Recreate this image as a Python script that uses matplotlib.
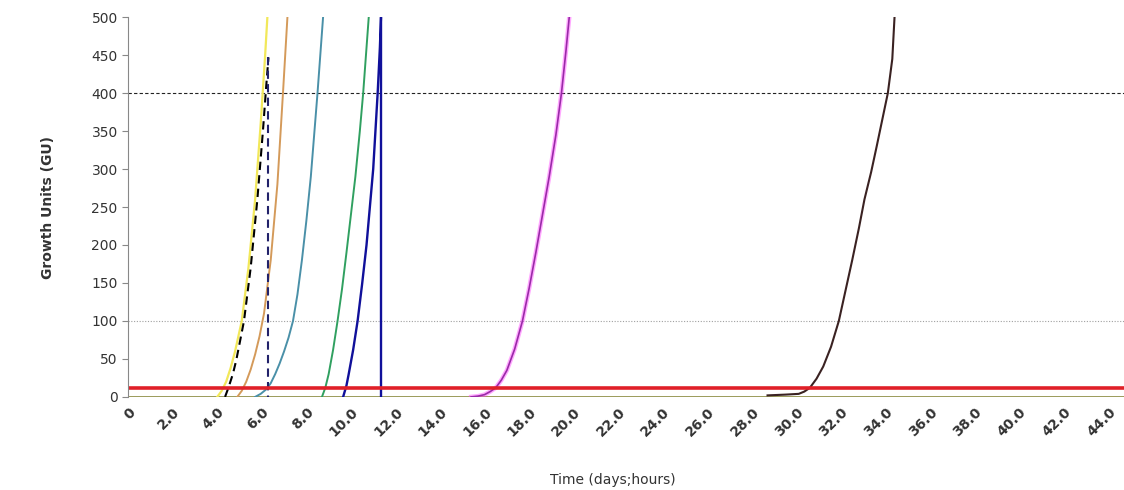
import matplotlib.pyplot as plt

# growth curves: (time, growth units)
yellow_t = [4.0, 4.2, 4.4, 4.6, 4.8, 5.1, 5.4, 5.7, 5.95, 6.15, 6.25]
yellow_gu = [0, 8, 20, 38, 60, 100, 170, 260, 360, 450, 500]

black_t = [4.35, 4.5, 4.7, 4.85, 5.0, 5.2, 5.5, 5.8, 6.05, 6.2, 6.3]
black_gu = [0, 12, 30, 48, 70, 100, 170, 260, 350, 410, 447]

drop_t = [6.3, 6.3]
drop_gu = [447, 0]

orange_t = [4.9, 5.1, 5.3, 5.5, 5.7, 5.9, 6.1, 6.4, 6.7, 6.95, 7.15]
orange_gu = [0, 8, 20, 36, 56, 80, 110, 180, 280, 400, 500]

teal_t = [5.7, 5.95, 6.2, 6.4, 6.6, 6.8, 7.0, 7.2, 7.4, 7.6, 7.8, 8.0, 8.2, 8.35, 8.5, 8.65, 8.75]
teal_gu = [0, 4, 10, 18, 30, 44, 60, 78, 100, 135, 180, 232, 290, 345, 400, 460, 500]

green_t = [8.7, 8.85, 9.0, 9.2, 9.4, 9.6, 9.8, 10.0, 10.2, 10.4, 10.55, 10.7, 10.8]
green_gu = [0, 12, 30, 62, 100, 142, 190, 240, 290, 350, 400, 460, 500]

navy_t = [9.65, 9.8, 9.9, 10.1, 10.3, 10.5, 10.7, 10.85, 11.0, 11.1, 11.2, 11.3, 11.35, 11.35]
navy_gu = [0, 15, 30, 62, 100, 148, 200, 250, 300, 350, 400, 460, 500, 0]

magenta_t = [15.4, 15.7, 16.0, 16.25, 16.5, 16.75, 17.0, 17.35, 17.7, 18.0, 18.3, 18.6, 18.9, 19.2, 19.45, 19.65, 19.8]
magenta_gu = [0, 1, 3, 7, 12, 22, 35, 63, 100, 143, 190, 240, 290, 345, 400, 455, 500]

brown_t = [28.7, 29.5, 30.1, 30.35, 30.6, 30.9, 31.2, 31.55, 31.9, 32.2, 32.5, 32.8, 33.05, 33.35, 33.6, 33.85, 34.1, 34.3, 34.4]
brown_gu = [2, 3, 4, 7, 12, 24, 40, 66, 100, 140, 180, 222, 260, 296, 330, 365, 400, 445, 500]

threshold = 12
upper_ref = 400
lower_ref = 100

x_ticks = list(range(0, 45, 2))
x_labels = ["0"] + [f"{t:.1f}" for t in x_ticks[1:]]
y_ticks = list(range(0, 501, 50))

fig = plt.figure(figsize=(11.24, 4.9), dpi=100)
ax = fig.add_axes([0.114, 0.19, 0.886, 0.775])

ax.axhline(lower_ref, color="#a0a0a0", lw=0.8, ls=(0, (1, 1.5)))
ax.axhline(upper_ref, color="#222222", lw=0.8, ls=(0, (3, 2)))
ax.axhline(0, color="#8a8a40", lw=1.2)

ax.plot(yellow_t, yellow_gu, color="#f2e85a", lw=1.6)
ax.plot(orange_t, orange_gu, color="#d49a5a", lw=1.4)
ax.plot(teal_t, teal_gu, color="#4a90a8", lw=1.4)
ax.plot(black_t, black_gu, color="black", lw=1.5, ls=(0, (4, 2.5)))
ax.plot(drop_t, drop_gu, color="#22226a", lw=1.5, ls=(0, (4, 2.5)))
ax.plot(green_t, green_gu, color="#30a060", lw=1.4)
ax.plot(navy_t, navy_gu, color="#10109a", lw=1.7)
ax.plot(magenta_t, magenta_gu, color="#ff40ff", lw=3.2, alpha=0.45)
ax.plot(magenta_t, magenta_gu, color="#9a2aa8", lw=1.2)
ax.plot(brown_t, brown_gu, color="#3a2222", lw=1.5)

ax.axhline(threshold, color="#e02028", lw=2.6)

ax.set_xlim(0, 44.7)
ax.set_ylim(0, 500)
ax.set_xticks(x_ticks)
ax.set_xticklabels(x_labels, rotation=45, ha="right", rotation_mode="anchor",
                   fontsize=10, fontweight="bold", color="#333333")
ax.set_yticks(y_ticks)
ax.tick_params(axis="y", labelsize=10, colors="#333333", length=4, color="#888888")
ax.tick_params(axis="x", length=0, pad=6)

for side in ["top", "right", "bottom"]:
    ax.spines[side].set_visible(False)
ax.spines["left"].set_color("#888888")

ax.set_ylabel("Growth Units (GU)", fontsize=10, fontweight="bold", color="#333333", labelpad=26)
fig.text(0.545, 0.012, "Time (days;hours)", fontsize=10, color="#333333", ha="center")

fig.savefig("out.png", dpi=100)
